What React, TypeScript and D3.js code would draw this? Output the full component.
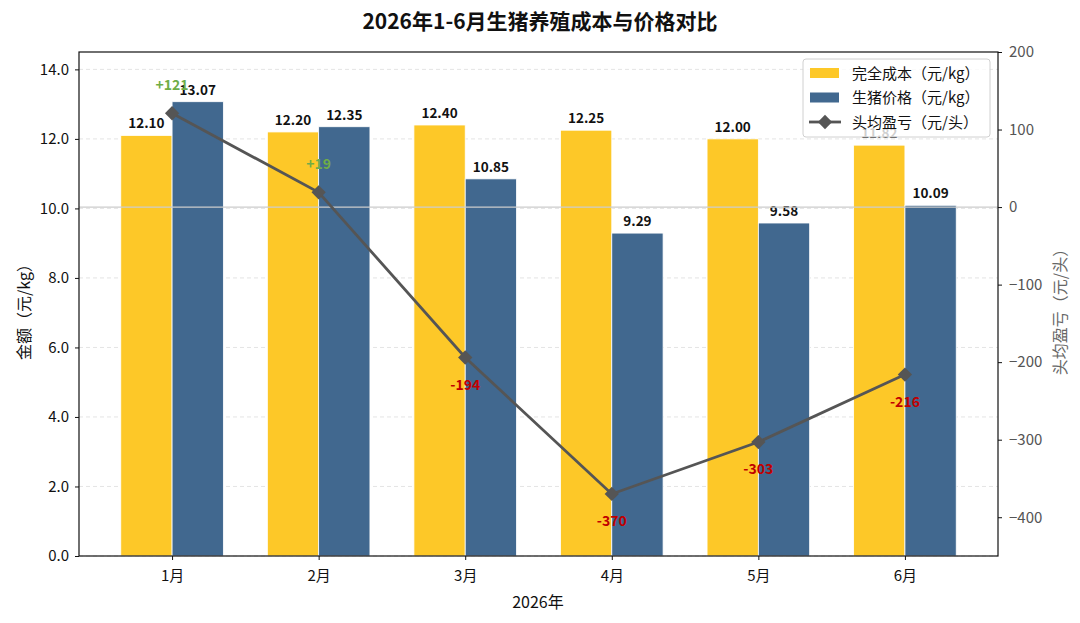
import { useEffect, useRef } from "react"
import * as d3 from "d3"

const months = ["1月", "2月", "3月", "4月", "5月", "6月"]
const costValues = [12.1, 12.2, 12.4, 12.25, 12.0, 11.82]
const priceValues = [13.07, 12.35, 10.85, 9.29, 9.58, 10.09]
const profitValues = [121, 19, -194, -370, -303, -216]
const leftTicks = [0, 2, 4, 6, 8, 10, 12, 14]
const rightTicks = [-400, -300, -200, -100, 0, 100, 200]
const legendLabels = ["完全成本（元/kg）", "生猪价格（元/kg）", "头均盈亏（元/头）"]

const W = 1080
const H = 623
const FONT = "'Noto Sans CJK SC', 'Noto Sans', sans-serif"
const COST = "#FDC828"
const PRICE = "#41688F"
const LINE = "#555555"

export default function App() {
  const svgRef = useRef<SVGSVGElement>(null)

  useEffect(() => {
    if (!svgRef.current) return
    const svg = d3.select(svgRef.current)
    svg.selectAll("*").remove()

    const margin = { top: 52, right: 82, bottom: 67, left: 79 }
    const x0 = margin.left
    const x1 = W - margin.right
    const y0 = H - margin.bottom
    const y1 = margin.top

    const x = d3.scaleLinear().domain([-0.635, 5.635]).range([x0, x1])
    const yL = d3.scaleLinear().domain([0, 14.5]).range([y0, y1])
    const yR = d3.scaleLinear().domain([-450, 200]).range([y0, y1])
    const bw = 0.35

    const g = svg.append("g").attr("font-family", FONT)

    // grid
    g.append("g")
      .selectAll("line")
      .data(leftTicks)
      .join("line")
      .attr("x1", x0)
      .attr("x2", x1)
      .attr("y1", (d) => yL(d))
      .attr("y2", (d) => yL(d))
      .attr("stroke", "#dddddd")
      .attr("stroke-width", 0.8)
      .attr("stroke-dasharray", "4,3")

    // bars
    g.append("g")
      .selectAll("rect")
      .data(costValues)
      .join("rect")
      .attr("x", (_, i) => x(i - bw))
      .attr("width", x(bw) - x(0))
      .attr("y", (d) => yL(d))
      .attr("height", (d) => y0 - yL(d))
      .attr("fill", COST)
      .attr("stroke", "#fff")
      .attr("stroke-width", 0.8)

    g.append("g")
      .selectAll("rect")
      .data(priceValues)
      .join("rect")
      .attr("x", (_, i) => x(i))
      .attr("width", x(bw) - x(0))
      .attr("y", (d) => yL(d))
      .attr("height", (d) => y0 - yL(d))
      .attr("fill", PRICE)
      .attr("stroke", "#fff")
      .attr("stroke-width", 0.8)

    // bar labels
    const barLabel = (vals: number[], off: number) =>
      g.append("g")
        .selectAll("text")
        .data(vals)
        .join("text")
        .attr("x", (_, i) => x(i + off))
        .attr("y", (d) => yL(d) - 7)
        .attr("text-anchor", "middle")
        .attr("font-size", 13.5)
        .attr("font-weight", "bold")
        .attr("fill", "#111")
        .text((d) => d.toFixed(2))
    barLabel(costValues, -bw / 2)
    barLabel(priceValues, bw / 2)

    // zero line of right axis
    g.append("line")
      .attr("x1", x0)
      .attr("x2", x1)
      .attr("y1", yR(0))
      .attr("y2", yR(0))
      .attr("stroke", "#cccccc")
      .attr("stroke-width", 1.2)

    // profit line
    const line = d3
      .line<number>()
      .x((_, i) => x(i))
      .y((d) => yR(d))
    g.append("path")
      .datum(profitValues)
      .attr("d", line)
      .attr("fill", "none")
      .attr("stroke", LINE)
      .attr("stroke-width", 2.8)

    const diamond = d3.symbol().type(d3.symbolDiamond2).size(130)
    g.append("g")
      .selectAll("path")
      .data(profitValues)
      .join("path")
      .attr("d", diamond)
      .attr("transform", (d, i) => `translate(${x(i)},${yR(d)})`)
      .attr("fill", LINE)

    g.append("g")
      .selectAll("text")
      .data(profitValues)
      .join("text")
      .attr("x", (_, i) => x(i))
      .attr("y", (d) => (d >= 0 ? yR(d) - 23 : yR(d) + 32))
      .attr("text-anchor", "middle")
      .attr("font-size", 14)
      .attr("font-weight", "bold")
      .attr("fill", (d) => (d >= 0 ? "#6FAD47" : "#C00000"))
      .text((d) => (d > 0 ? `+${d}` : `${d}`))

    // frame
    g.append("rect")
      .attr("x", x0)
      .attr("y", y1)
      .attr("width", x1 - x0)
      .attr("height", y0 - y1)
      .attr("fill", "none")
      .attr("stroke", "#111")
      .attr("stroke-width", 1.2)

    // left axis
    const left = g.append("g").attr("transform", `translate(${x0},0)`)
      .call(d3.axisLeft(yL).tickValues(leftTicks).tickFormat(d3.format(".1f")).tickSize(4).tickPadding(6))
    left.select(".domain").remove()
    left.selectAll("text").attr("font-size", 15).attr("fill", "#111").attr("font-family", FONT)
    left.selectAll("line").attr("stroke", "#111")

    // right axis
    const right = g.append("g").attr("transform", `translate(${x1},0)`)
      .call(d3.axisRight(yR).tickValues(rightTicks).tickSize(4).tickPadding(7))
    right.select(".domain").remove()
    right.selectAll("text").attr("font-size", 15).attr("fill", "#555").attr("font-family", FONT)
    right.selectAll("line").attr("stroke", "#111")

    // bottom axis
    const bottom = g.append("g").attr("transform", `translate(0,${y0})`)
      .call(d3.axisBottom(x).tickValues(d3.range(months.length)).tickFormat((d) => months[d as number]).tickSize(4).tickPadding(10))
    bottom.select(".domain").remove()
    bottom.selectAll("text").attr("font-size", 15).attr("fill", "#111").attr("font-family", FONT)
    bottom.selectAll("line").attr("stroke", "#111")

    // axis titles
    g.append("text")
      .attr("x", 538)
      .attr("y", 608)
      .attr("text-anchor", "middle")
      .attr("font-size", 16)
      .attr("fill", "#111")
      .text("2026年")

    g.append("text")
      .attr("transform", `translate(30,${(y0 + y1) / 2 + 4}) rotate(-90)`)
      .attr("text-anchor", "middle")
      .attr("font-size", 16)
      .attr("fill", "#111")
      .text("金额（元/kg）")

    g.append("text")
      .attr("transform", `translate(1066,${(y0 + y1) / 2 + 4}) rotate(-90)`)
      .attr("text-anchor", "middle")
      .attr("font-size", 16)
      .attr("fill", "#666")
      .text("头均盈亏（元/头）")

    // title
    g.append("text")
      .attr("x", W / 2)
      .attr("y", 29)
      .attr("text-anchor", "middle")
      .attr("font-size", 21)
      .attr("font-weight", "bold")
      .attr("fill", "#111")
      .text("2026年1-6月生猪养殖成本与价格对比")

    // legend
    const lg = g.append("g").attr("transform", "translate(803,59)")
    lg.append("rect")
      .attr("width", 187)
      .attr("height", 78)
      .attr("rx", 3)
      .attr("fill", "#fff")
      .attr("fill-opacity", 0.8)
      .attr("stroke", "#d0d0d0")
    legendLabels.forEach((label, i) => {
      const row = lg.append("g").attr("transform", `translate(0,${14 + i * 24.5})`)
      if (i < 2) {
        row.append("rect")
          .attr("x", 7)
          .attr("y", -5)
          .attr("width", 29)
          .attr("height", 10)
          .attr("fill", i === 0 ? COST : PRICE)
      } else {
        row.append("line")
          .attr("x1", 6)
          .attr("x2", 38)
          .attr("stroke", LINE)
          .attr("stroke-width", 2.8)
        row.append("path")
          .attr("d", diamond)
          .attr("transform", "translate(22,0)")
          .attr("fill", LINE)
      }
      row.append("text")
        .attr("x", 49)
        .attr("y", 5.5)
        .attr("font-size", 15)
        .attr("fill", "#111")
        .text(label)
    })
  }, [])

  return (
    <div style={{ position: "absolute", left: 0, top: 0, width: W, height: H, background: "#fff" }}>
      <svg ref={svgRef} width={W} height={H} style={{ display: "block" }} />
    </div>
  )
}
